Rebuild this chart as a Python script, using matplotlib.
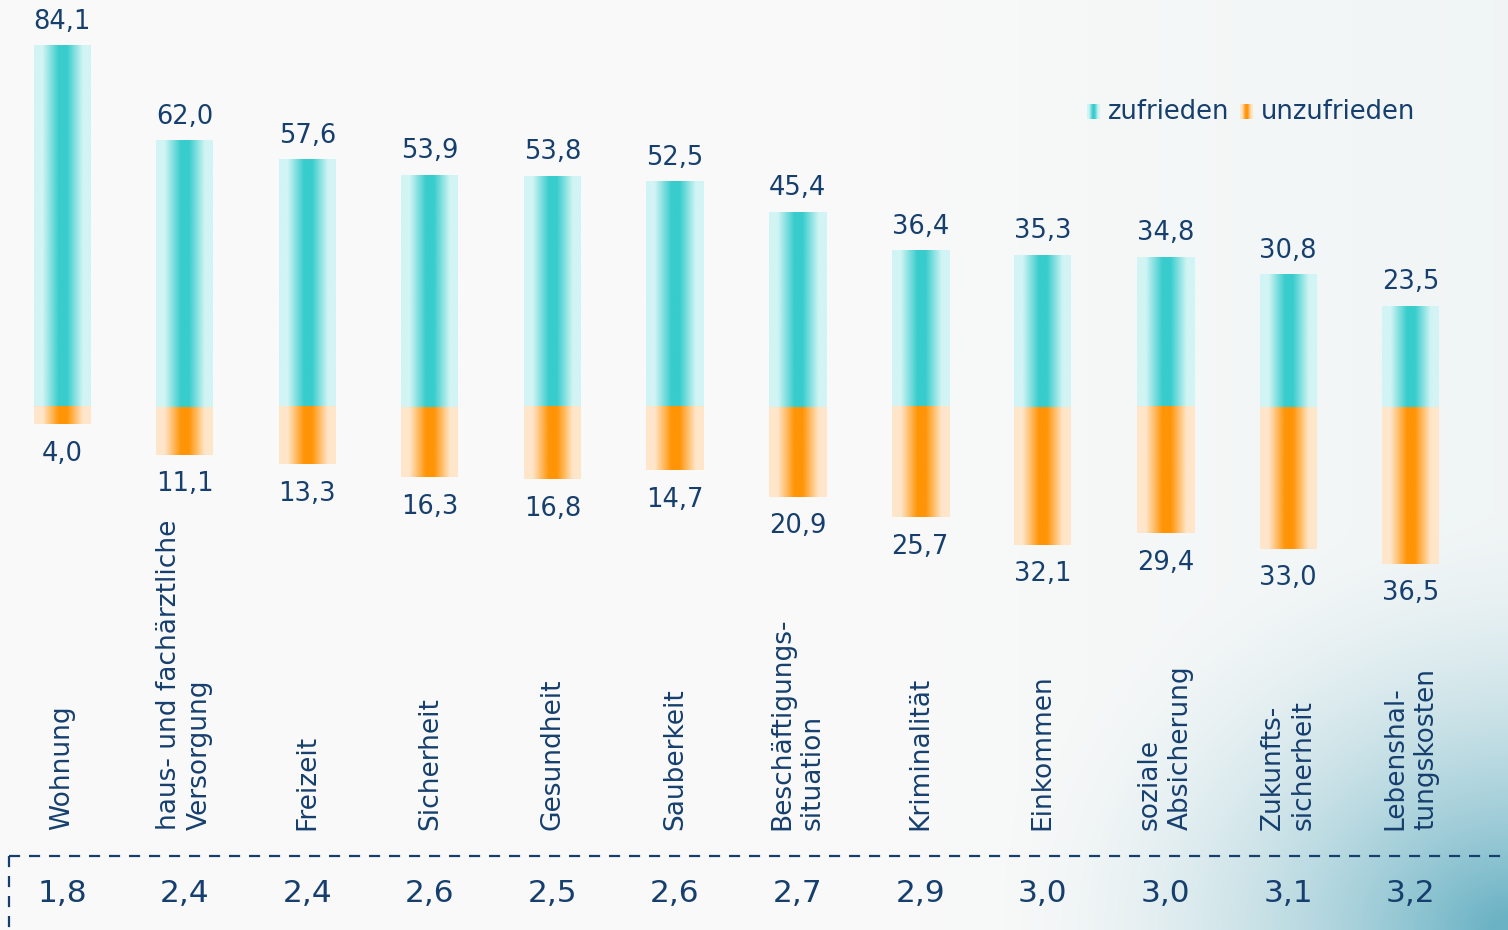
import numpy as np
import matplotlib
matplotlib.use('Agg')
import matplotlib.pyplot as plt
from matplotlib.colors import LinearSegmentedColormap
from matplotlib.lines import Line2D

categories = ['Wohnung', 'haus- und fachärztliche\nVersorgung', 'Freizeit', 'Sicherheit',
              'Gesundheit', 'Sauberkeit', 'Beschäftigungs-\nsituation', 'Kriminalität',
              'Einkommen', 'soziale\nAbsicherung', 'Zukunfts-\nsicherheit', 'Lebenshal-\ntungskosten']
zufrieden = [84.1, 62.0, 57.6, 53.9, 53.8, 52.5, 45.4, 36.4, 35.3, 34.8, 30.8, 23.5]
unzufrieden = [4.0, 11.1, 13.3, 16.3, 16.8, 14.7, 20.9, 25.7, 32.1, 29.4, 33.0, 36.5]
mittelwert = [1.8, 2.4, 2.4, 2.6, 2.5, 2.6, 2.7, 2.9, 3.0, 3.0, 3.1, 3.2]

NAVY = '#163f6e'
plt.rcParams['font.family'] = ['DejaVu Sans']

W, H = 1508, 930
X0, DX = 62, 122.6      # pixel centre of first bar, spacing
Y0, SY = 407, 4.293     # pixel of zero line, pixels per unit
BW = 57 / DX

def de(v):
    return f'{v:.1f}'.replace('.', ',')

def grad_cmap(light, dark):
    return LinearSegmentedColormap.from_list('g', [(0, light), (0.15, light), (0.44, dark),
                                                    (0.58, dark), (0.86, light), (1, light)])

teal = grad_cmap('#d2f4f4', '#38cccc')
orange = grad_cmap('#ffe6ca', '#ff9406')
ramp = np.linspace(0, 1, 256).reshape(1, -1)

fig = plt.figure(figsize=(W / 100, H / 100), dpi=100)

# background with soft bluish corner
bg = fig.add_axes([0, 0, 1, 1], zorder=0)
yy, xx = np.mgrid[0:H:2, 0:W:2]
d = np.sqrt(((xx - W) / 520.0) ** 2 + ((yy - H) / 420.0) ** 2)
t = np.clip(1 - d, 0, 1) ** 1.8
t2 = np.clip((xx - 900) / 608.0, 0, 1) * 0.06
t = np.clip(t + t2, 0, 1)
base = np.array([0.975, 0.977, 0.975])
corner = np.array([0.42, 0.70, 0.77])
img = base[None, None, :] * (1 - t[..., None]) + corner[None, None, :] * t[..., None]
bg.imshow(img, extent=[0, W, H, 0], aspect='auto')
bg.set_xlim(0, W)
bg.set_ylim(H, 0)
bg.axis('off')

ax = fig.add_axes([0, 0, 1, 1], zorder=1)
ax.patch.set_alpha(0)
ax.axis('off')

for i, (z, u) in enumerate(zip(zufrieden, unzufrieden)):
    ax.imshow(ramp, cmap=teal, extent=[i - BW / 2, i + BW / 2, 0, z], aspect='auto')
    ax.imshow(ramp, cmap=orange, extent=[i - BW / 2, i + BW / 2, -u, 0], aspect='auto')
    ax.annotate(de(z), (i, z), xytext=(0, 8), textcoords='offset points',
                ha='center', va='bottom', fontsize=18.5, color=NAVY)
    ax.annotate(de(u), (i, -u), xytext=(0, -12), textcoords='offset points',
                ha='center', va='top', fontsize=18.5, color=NAVY)
    ax.text(i, -(830 - Y0) / SY, categories[i], rotation=90, ha='center', va='bottom',
            multialignment='left', fontsize=19, color=NAVY, linespacing=1.25)
    ax.text(i, -(893 - Y0) / SY, de(mittelwert[i]), ha='center', va='center',
            fontsize=22.5, color=NAVY)

ax.set_xlim(-X0 / DX, (W - X0) / DX)
ax.set_ylim(-(H - Y0) / SY, Y0 / SY)

# dashed box for mean values
fig.add_artist(Line2D([9 / W, 1], [1 - 856 / H] * 2, transform=fig.transFigure,
                      color=NAVY, lw=1.6, ls=(0, (5, 4))))
fig.add_artist(Line2D([9 / W] * 2, [1 - 856 / H, 0], transform=fig.transFigure,
                      color=NAVY, lw=1.6, ls=(0, (5, 4))))

# legend
for px, cmap, label in [(1087, teal, 'zufrieden'), (1240, orange, 'unzufrieden')]:
    lax = fig.add_axes([px / W, 1 - 119 / H, 13 / W, 15 / H], zorder=2)
    lax.imshow(ramp, cmap=cmap, aspect='auto')
    lax.axis('off')
    fig.text((px + 21) / W, 1 - 112 / H, label, ha='left', va='center',
             fontsize=18.5, color=NAVY)

fig.savefig('out.png', dpi=100)
